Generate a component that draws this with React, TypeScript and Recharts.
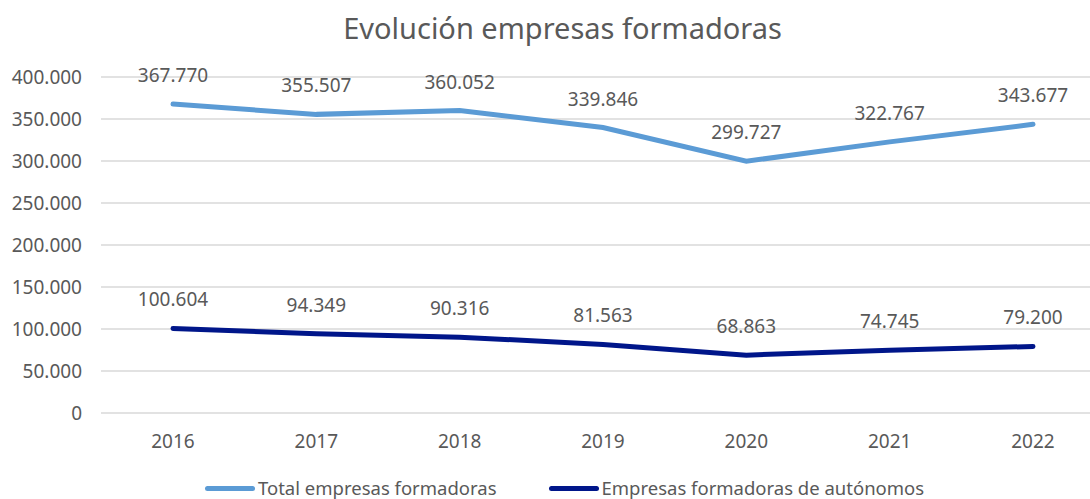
import React from "react"
import { LineChart, Line, XAxis, YAxis, CartesianGrid, Legend, LabelList } from "recharts"

const years = ["2016", "2017", "2018", "2019", "2020", "2021", "2022"]
const totalEmpresas = [367770, 355507, 360052, 339846, 299727, 322767, 343677]
const empresasAutonomos = [100604, 94349, 90316, 81563, 68863, 74745, 79200]
const yTicks = [0, 50000, 100000, 150000, 200000, 250000, 300000, 350000, 400000]

const SERIES = [
  { key: "total", name: "Total empresas formadoras", color: "#5B9BD5" },
  { key: "autonomos", name: "Empresas formadoras de autónomos", color: "#00168A" },
]

const FONT = "'Noto Sans', 'DejaVu Sans', sans-serif"
const TEXT = "#595959"

const data = years.map((year, i) => ({
  year,
  total: totalEmpresas[i],
  autonomos: empresasAutonomos[i],
}))

// 367770 -> "367.770"
const fmt = (v: number) => String(v).replace(/\B(?=(\d{3})+(?!\d))/g, ".")

const renderLabel = (props: any) => {
  const { x, y, value } = props
  return (
    <text
      x={x}
      y={y - 29}
      textAnchor="middle"
      dominantBaseline="central"
      fill={TEXT}
      fontSize={19}
      fontFamily={FONT}
    >
      {fmt(value)}
    </text>
  )
}

const renderLegend = () => (
  <div style={{ display: "flex", fontFamily: FONT, fontSize: 18.5, color: TEXT, lineHeight: "22px" }}>
    {SERIES.map((s, i) => (
      <div key={s.key} style={{ display: "flex", alignItems: "center", marginLeft: i === 0 ? 0 : 52 }}>
        <span
          style={{
            display: "inline-block",
            width: 50,
            height: 5,
            borderRadius: 3,
            background: s.color,
            marginRight: 3,
          }}
        />
        <span>{s.name}</span>
      </div>
    ))}
  </div>
)

export default function App() {
  return (
    <div style={{ position: "absolute", left: 0, top: 0, width: 1090, height: 499, overflow: "hidden", background: "#fff" }}>
      <div
        style={{
          position: "absolute",
          top: 8,
          left: 0,
          width: 1125,
          textAlign: "center",
          fontFamily: FONT,
          fontSize: 29,
          color: TEXT,
          lineHeight: "40px",
        }}
      >
        Evolución empresas formadoras
      </div>
      <LineChart width={1110} height={499} data={data} margin={{ top: 77, right: 5, bottom: 46, left: 0 }}>
        <CartesianGrid vertical={false} stroke="#D9D9D9" strokeWidth={1.5} />
        <XAxis
          dataKey="year"
          axisLine={false}
          tickLine={false}
          height={40}
          tickMargin={16}
          padding={{ left: 72, right: 72 }}
          tick={{ fill: TEXT, fontSize: 19, fontFamily: FONT }}
        />
        <YAxis
          domain={[0, 400000]}
          ticks={yTicks}
          width={101}
          axisLine={false}
          tickLine={false}
          tickSize={0}
          tickMargin={19}
          tickFormatter={fmt}
          tick={{ fill: TEXT, fontSize: 19, fontFamily: FONT }}
        />
        {SERIES.map((s) => (
          <Line
            key={s.key}
            dataKey={s.key}
            name={s.name}
            stroke={s.color}
            strokeWidth={5}
            strokeLinecap="round"
            dot={false}
            activeDot={false}
            isAnimationActive={false}
          >
            <LabelList dataKey={s.key} content={renderLabel} />
          </Line>
        ))}
        <Legend
          layout="horizontal"
          verticalAlign="middle"
          align="center"
          content={renderLegend}
          wrapperStyle={{ top: 477, left: 205, width: 900 }}
        />
      </LineChart>
    </div>
  )
}
